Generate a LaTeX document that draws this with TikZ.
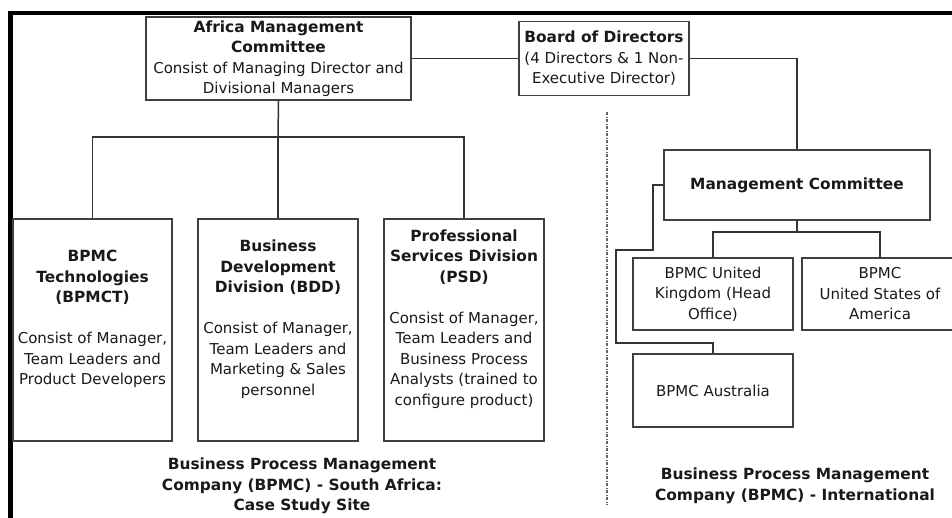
\documentclass[tikz,border=0pt]{standalone}
\usepackage{fontspec}
\setmainfont{DejaVu Sans}
\newcommand{\bx}[1]{{\fontsize{15.4}{20.5}\selectfont\bfseries #1}}
\begin{document}
\begin{tikzpicture}[x=1pt,y=-1pt,
  every node/.style={font=\fontsize{15}{20.5}\selectfont, text=black!90},
  box/.style={draw=black!75, line width=1.5pt, rectangle, inner sep=0pt, align=center},
  txt/.style={inner sep=0pt, align=center},
  conn/.style={draw=black!80, line width=1.5pt},
  title/.style={inner sep=0pt, align=center, font=\fontsize{15.4}{20.5}\selectfont\bfseries}]
\useasboundingbox (0,0) rectangle (952,517);

% outer frame
\draw[line width=4.2pt, line join=miter] (10.5,520) -- (10.5,13) -- (955,13);

% left side boxes
\node[box, minimum width=265pt, minimum height=83pt] (amc) at (278.5,58.5)
  {\bx{Africa Management}\\ \bx{Committee}\\ Consist of Managing Director and\\ Divisional Managers};
\node[box, minimum width=170pt, minimum height=74pt] (board) at (604,58.5)
  {\bx{Board of Directors}\\ (4 Directors \& 1 Non-\\ Executive Director)};

\node[box, minimum width=159pt, minimum height=222pt] (bpmct) at (92.5,330) {};
\node[box, minimum width=160pt, minimum height=222pt] (bdd) at (278,330) {};
\node[box, minimum width=160pt, minimum height=222pt] (psd) at (464,330) {};

\node[txt] (bpmctt) at (92.5,319)
  {\bx{BPMC}\\ \bx{Technologies}\\ \bx{(BPMCT)}\\[20.5pt] Consist of Manager,\\ Team Leaders and\\ Product Developers};
\node[txt] (bddt) at (278,319)
  {\bx{Business}\\ \bx{Development}\\ \bx{Division (BDD)}\\[20.5pt] Consist of Manager,\\ Team Leaders and\\ Marketing \& Sales\\ personnel};
\node[txt] (psdt) at (464,319)
  {\bx{Professional}\\ \bx{Services Division}\\ \bx{(PSD)}\\[20.5pt] Consist of Manager,\\ Team Leaders and\\ Business Process\\ Analysts (trained to\\ configure product)};

% right side boxes
\node[box, minimum width=266pt, minimum height=70pt] (mc) at (797,185) {\bx{Management Committee}};
\node[box, minimum width=160pt, minimum height=72pt] (uk) at (713,294) {BPMC United\\ Kingdom (Head\\ Office)};
\node[box, minimum width=156pt, minimum height=72pt] (usa) at (880,294) {BPMC\\ United States of\\ America};
\node[box, minimum width=160pt, minimum height=73pt] (aus) at (713,390.5) {BPMC Australia};

% connectors left
\coordinate (j1) at (278,137);
\draw[conn] (amc.south) -- (j1);
\draw[conn] (bpmct.north) |- (j1) -| (psd.north);
\draw[conn] (j1) -- (bdd.north);
\draw[conn] (amc.east) -- (board.west);

% connectors right
\draw[conn] (board.east) -| (mc.north);
\coordinate (j2) at (797,232);
\draw[conn] (mc.south) -- (j2);
\draw[conn] (uk.north) |- (j2) -| (usa.north);
\coordinate (k1) at (653,185);
\coordinate (k2) at (616,250);
\coordinate (k3) at (616,343);
\draw[conn] (mc.west) -- (k1) |- (k2) -- (k3) -| (aus.north);

% divider
\coordinate (d1) at (607,112);
\coordinate (d2) at (607,505);
\draw[black!60, line width=1.7pt, dash pattern=on 3pt off 1.5pt on 1pt off 1.5pt] (d1) -- (d2);

% titles
\node[title] (tl) at (302,486) {Business Process Management\\ Company (BPMC) - South Africa:\\ Case Study Site};
\node[title] (tr) at (795,486) {Business Process Management\\ Company (BPMC) - International};
\end{tikzpicture}
\end{document}
